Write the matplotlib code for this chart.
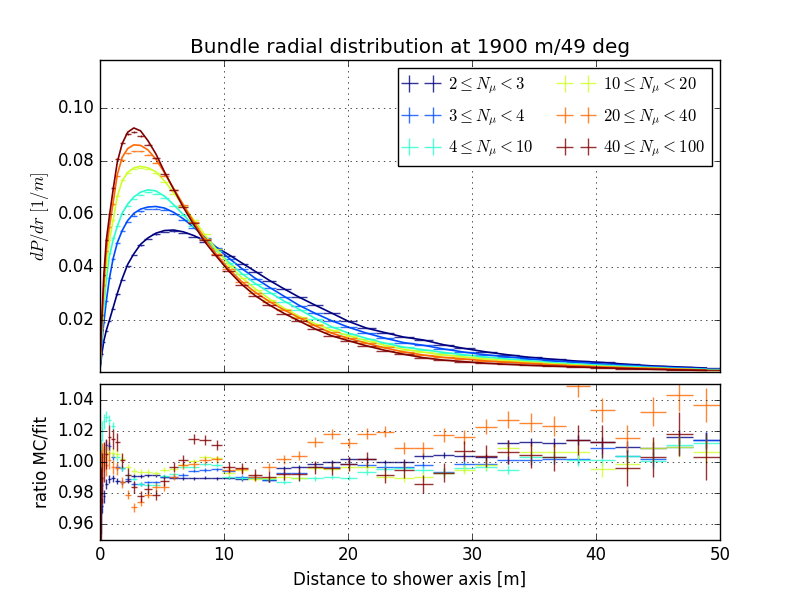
import numpy as np
import matplotlib
matplotlib.use('Agg')
import matplotlib.pyplot as plt
from matplotlib.ticker import FormatStrFormatter

plt.style.use('classic')

# bin edges in r [m] (equal steps in sqrt(r))
edges = [0.0, 0.0247, 0.0988, 0.222, 0.395, 0.617, 0.889, 1.210, 1.580, 2.000,
         2.469, 2.988, 3.556, 4.173, 4.840, 5.556, 6.321, 7.136, 8.000, 8.914,
         9.877, 10.889, 11.951, 13.062, 14.222, 15.432, 16.691, 18.000, 19.358, 20.765,
         22.222, 23.728, 25.284, 26.889, 28.543, 30.247, 32.000, 33.802, 35.654, 37.556,
         39.506, 41.506, 43.556, 45.654, 47.802, 50.0]

labels = [r'$2 \leq N_\mu < 3$', r'$3 \leq N_\mu < 4$', r'$4 \leq N_\mu < 10$',
          r'$10 \leq N_\mu < 20$', r'$20 \leq N_\mu < 40$', r'$40 \leq N_\mu < 100$']

# fitted dP/dr at bin centres
fit_2_3 = [0.0020, 0.0040, 0.0075, 0.0120, 0.0160, 0.0198, 0.0245, 0.0300, 0.0356, 0.0410,
           0.0450, 0.0486, 0.0510, 0.0528, 0.0538, 0.0540, 0.0533, 0.0519, 0.0499, 0.0474,
           0.0447, 0.0416, 0.0384, 0.0350, 0.0318, 0.0286, 0.0256, 0.0226, 0.0194, 0.0169,
           0.0152, 0.0135, 0.0124, 0.0106, 0.0092, 0.0079, 0.0068, 0.0058, 0.0051, 0.0044,
           0.0039, 0.0032, 0.0026, 0.0022, 0.0018]
fit_3_4 = [0.0025, 0.0055, 0.0120, 0.0190, 0.0270, 0.0355, 0.0430, 0.0492, 0.0538, 0.0576,
           0.0603, 0.0619, 0.0627, 0.0629, 0.0623, 0.0607, 0.0582, 0.0550, 0.0513, 0.0474,
           0.0434, 0.0395, 0.0358, 0.0324, 0.0290, 0.0255, 0.0225, 0.0197, 0.0172, 0.0150,
           0.0131, 0.0114, 0.0104, 0.0090, 0.0078, 0.0068, 0.0060, 0.0052, 0.0045, 0.0039,
           0.0033, 0.0028, 0.0023, 0.0019, 0.0015]
fit_4_10 = [0.0030, 0.0070, 0.0150, 0.0250, 0.0350, 0.0440, 0.0500, 0.0554, 0.0604, 0.0638,
            0.0665, 0.0683, 0.0692, 0.0688, 0.0668, 0.0636, 0.0598, 0.0555, 0.0508, 0.0463,
            0.0418, 0.0376, 0.0338, 0.0305, 0.0272, 0.0240, 0.0206, 0.0174, 0.0150, 0.0130,
            0.0112, 0.0097, 0.0087, 0.0077, 0.0068, 0.0059, 0.0052, 0.0045, 0.0038, 0.0033,
            0.0028, 0.0024, 0.0020, 0.0016, 0.0013]
fit_10_20 = [0.0035, 0.0080, 0.0170, 0.0290, 0.0400, 0.0500, 0.0575, 0.0667, 0.0726, 0.0758,
             0.0775, 0.0781, 0.0775, 0.0760, 0.0726, 0.0681, 0.0631, 0.0578, 0.0522, 0.0466,
             0.0408, 0.0360, 0.0318, 0.0280, 0.0245, 0.0214, 0.0186, 0.0161, 0.0140, 0.0121,
             0.0104, 0.0089, 0.0078, 0.0068, 0.0060, 0.0052, 0.0046, 0.0040, 0.0034, 0.0029,
             0.0024, 0.0020, 0.0017, 0.0014, 0.0011]
fit_20_40 = [0.0040, 0.0090, 0.0200, 0.0330, 0.0460, 0.0550, 0.0640, 0.0749, 0.0815, 0.0848,
             0.0862, 0.0860, 0.0843, 0.0808, 0.0757, 0.0697, 0.0635, 0.0570, 0.0507, 0.0448,
             0.0393, 0.0345, 0.0305, 0.0270, 0.0238, 0.0208, 0.0178, 0.0150, 0.0130, 0.0112,
             0.0094, 0.0079, 0.0067, 0.0058, 0.0052, 0.0045, 0.0040, 0.0035, 0.0030, 0.0026,
             0.0022, 0.0019, 0.0016, 0.0013, 0.0010]
fit_40_100 = [0.0050, 0.0110, 0.0220, 0.0370, 0.0500, 0.0590, 0.0690, 0.0797, 0.0867, 0.0910,
              0.0926, 0.0915, 0.0878, 0.0828, 0.0760, 0.0694, 0.0625, 0.0560, 0.0495, 0.0440,
              0.0385, 0.0335, 0.0292, 0.0257, 0.0225, 0.0196, 0.0166, 0.0140, 0.0121, 0.0102,
              0.0085, 0.0070, 0.0057, 0.0048, 0.0042, 0.0036, 0.0032, 0.0028, 0.0025, 0.0022,
              0.0019, 0.0016, 0.0013, 0.0011, 0.0009]

# ratio MC / fit
ratio_2_3 = [0.952, 0.962, 0.972, 0.978, 0.986, 0.989, 0.9895, 0.988, 0.987, 0.988,
             0.991, 0.991, 0.9915, 0.9915, 0.9905, 0.990, 0.9895, 0.9895, 0.990, 0.9895,
             0.990, 0.989, 0.990, 0.9884, 0.996, 0.9966, 0.999, 1.000, 1.002, 1.002,
             1.000, 1.000, 1.004, 1.0045, 1.004, 1.003, 1.012, 1.013, 1.0124, 1.014,
             1.013, 1.0098, 1.0088, 1.016, 1.014]
ratio_3_4 = [0.965, 0.975, 0.985, 1.005, 1.011, 1.010, 1.0035, 0.9966, 0.996, 0.989,
             0.986, 0.986, 0.987, 0.987, 0.9906, 0.9906, 0.9917, 0.9944, 0.995, 0.9953,
             0.994, 0.9906, 0.9906, 0.9884, 0.993, 0.9927, 0.997, 0.9966, 0.999, 0.998,
             0.9966, 0.9966, 0.998, 0.9938, 0.999, 0.999, 1.001, 1.001, 1.0017, 1.0017,
             1.0088, 1.0039, 1.0017, 1.0098, 1.014]
ratio_4_10 = [0.998, 1.005, 1.020, 1.026, 1.029, 1.027, 1.023, 1.003, 0.996, 0.9915,
              0.989, 0.986, 0.9855, 0.9855, 0.991, 0.992, 0.9966, 0.997, 0.9987, 0.998,
              0.9906, 0.990, 0.9895, 0.989, 0.9874, 0.9895, 0.9895, 0.9906, 0.990, 0.9938,
              0.9953, 0.996, 0.995, 0.993, 0.996, 0.997, 0.995, 1.0034, 1.003, 1.0013,
              1.0013, 1.004, 1.0006, 1.011, 1.012]
ratio_10_20 = [0.985, 0.995, 1.000, 1.004, 1.006, 1.006, 1.006, 1.005, 1.002, 0.997,
               0.9944, 0.9938, 0.9938, 0.993, 0.995, 0.9955, 0.998, 1.0006, 1.003, 1.0024,
               0.9927, 0.995, 0.989, 0.9895, 0.9906, 0.990, 0.996, 0.9953, 0.9966, 0.997,
               0.9906, 0.9895, 0.9906, 0.993, 0.995, 0.998, 1.0088, 1.0066, 1.0066, 1.0066,
               0.9953, 0.999, 1.0088, 1.0098, 1.0066]
ratio_20_40 = [0.975, 0.990, 1.000, 1.003, 0.998, 1.001, 0.997, 0.996, 0.987, 0.979,
               0.971, 0.9745, 0.979, 0.984, 0.984, 0.9906, 0.998, 0.9985, 1.001, 1.0017,
               0.995, 0.9953, 0.9906, 0.997, 1.0017, 1.0039, 1.0128, 1.018, 1.012, 1.018,
               1.0195, 1.0088, 1.0088, 1.0173, 1.016, 1.0227, 1.027, 1.0253, 1.0231, 1.0484,
               1.0334, 1.0152, 1.0323, 1.043, 1.0366]
ratio_40_100 = [0.962, 0.972, 0.990, 1.000, 1.005, 1.016, 1.015, 1.013, 1.001, 0.9917,
                0.984, 0.978, 0.9825, 0.979, 0.988, 0.9966, 1.001, 1.015, 1.014, 1.011,
                0.9966, 0.996, 0.9917, 0.9906, 0.992, 0.992, 0.9966, 0.996, 0.999, 1.0017,
                0.9917, 0.995, 0.986, 0.993, 1.007, 1.004, 1.0066, 1.0045, 1.003, 1.014,
                1.013, 0.996, 1.0034, 1.018, 1.0034]

# statistical error on the ratio
err_2_3 = [0.012, 0.008, 0.005, 0.004, 0.003, 0.0025, 0.002, 0.0018, 0.0015, 0.0013,
           0.0012, 0.0011, 0.001, 0.001, 0.001, 0.001, 0.001, 0.001, 0.001, 0.001,
           0.001, 0.001, 0.0011, 0.0011, 0.0012, 0.0012, 0.0013, 0.0013, 0.0014, 0.0015,
           0.0016, 0.0017, 0.0018, 0.0019, 0.002, 0.0022, 0.0024, 0.0026, 0.0028, 0.003,
           0.0033, 0.0036, 0.004, 0.0045, 0.005]
err_3_4 = [0.013, 0.009, 0.006, 0.0045, 0.0033, 0.0028, 0.0022, 0.002, 0.0017, 0.0014,
           0.0013, 0.0012, 0.0011, 0.0011, 0.0011, 0.0011, 0.0011, 0.0011, 0.0011, 0.0011,
           0.0011, 0.0012, 0.0012, 0.0013, 0.0013, 0.0014, 0.0014, 0.0015, 0.0016, 0.0017,
           0.0018, 0.0019, 0.002, 0.0021, 0.0022, 0.0024, 0.0026, 0.0029, 0.0031, 0.0033,
           0.0036, 0.004, 0.0044, 0.005, 0.0055]
err_4_10 = [0.014, 0.01, 0.0065, 0.005, 0.0036, 0.003, 0.0024, 0.0022, 0.0018, 0.0016,
            0.0014, 0.0013, 0.0012, 0.0012, 0.0012, 0.0012, 0.0012, 0.0012, 0.0012, 0.0012,
            0.0012, 0.0013, 0.0013, 0.0014, 0.0014, 0.0015, 0.0016, 0.0017, 0.0018, 0.0019,
            0.002, 0.0021, 0.0022, 0.0023, 0.0024, 0.0026, 0.0029, 0.0031, 0.0034, 0.0036,
            0.004, 0.0043, 0.0048, 0.0054, 0.006]
err_10_20 = [0.018, 0.012, 0.0075, 0.006, 0.0045, 0.0038, 0.003, 0.0027, 0.0023, 0.002,
             0.0018, 0.0017, 0.0015, 0.0015, 0.0015, 0.0015, 0.0015, 0.0015, 0.0015, 0.0015,
             0.0015, 0.0016, 0.0017, 0.0017, 0.0018, 0.0018, 0.002, 0.002, 0.0021, 0.0023,
             0.0024, 0.0026, 0.0027, 0.0029, 0.003, 0.0033, 0.0036, 0.0039, 0.0042, 0.0045,
             0.005, 0.0054, 0.006, 0.0068, 0.0075]
err_20_40 = [0.025, 0.018, 0.012, 0.009, 0.007, 0.0058, 0.0046, 0.0041, 0.0035, 0.003,
             0.0028, 0.0025, 0.0023, 0.0023, 0.0023, 0.0023, 0.0023, 0.0023, 0.0023, 0.0023,
             0.0023, 0.0024, 0.0025, 0.0026, 0.0028, 0.0029, 0.003, 0.0031, 0.0032, 0.0035,
             0.0037, 0.0039, 0.0041, 0.0044, 0.0046, 0.005, 0.0055, 0.006, 0.0064, 0.0069,
             0.0076, 0.0083, 0.0092, 0.01, 0.011]
err_40_100 = [0.035, 0.025, 0.016, 0.013, 0.0096, 0.008, 0.0064, 0.0058, 0.0048, 0.0042,
              0.0038, 0.0035, 0.0032, 0.0032, 0.0032, 0.0032, 0.0032, 0.0032, 0.0032, 0.0032,
              0.0032, 0.0034, 0.0035, 0.0036, 0.0038, 0.0039, 0.0042, 0.0043, 0.0045, 0.0048,
              0.0051, 0.0054, 0.0058, 0.0061, 0.0064, 0.007, 0.0077, 0.0083, 0.009, 0.0096,
              0.0106, 0.0115, 0.0128, 0.014, 0.015]

fits = [fit_2_3, fit_3_4, fit_4_10, fit_10_20, fit_20_40, fit_40_100]
ratios = [ratio_2_3, ratio_3_4, ratio_4_10, ratio_10_20, ratio_20_40, ratio_40_100]
errs = [err_2_3, err_3_4, err_4_10, err_10_20, err_20_40, err_40_100]

edges = np.array(edges)
r = 0.5 * (edges[1:] + edges[:-1])
dr = 0.5 * (edges[1:] - edges[:-1])
colors = plt.cm.jet(np.linspace(0, 1, len(labels)))

fig = plt.figure(figsize=(8, 6), facecolor='white')
ax1 = fig.add_axes([0.125, 0.38, 0.775, 0.52])
ax2 = fig.add_axes([0.125, 0.10, 0.775, 0.26], sharex=ax1)

handles = []
for fit, ratio, err, col, lab in zip(fits, ratios, errs, colors, labels):
    fit = np.array(fit)
    ratio = np.array(ratio)
    err = np.array(err)
    mc = fit * ratio
    h = ax1.errorbar(r, mc, xerr=dr, yerr=fit * err, fmt='none', ecolor=col,
                     capsize=0, alpha=0.8, label=lab)
    handles.append(h)
    ax1.plot(r, fit, '-', color=col, lw=1.2)
    ax2.errorbar(r, ratio, xerr=dr, yerr=err, fmt='none', ecolor=col,
                 capsize=0, alpha=0.8)

ax1.set_xlim(0, 50)
ax1.set_ylim(0.0003, 0.1183)
ax1.set_title('Bundle radial distribution at 1900 m/49 deg')
ax1.set_ylabel(r'$dP/dr\ [1/m]$')
ax1.grid(True)
plt.setp(ax1.get_xticklabels(), visible=False)
ax1.legend(handles, labels, loc='upper right', ncol=2, fontsize=12,
           labelspacing=0.65, columnspacing=1.6, handletextpad=0.6)

ax2.set_ylim(0.95, 1.05)
ax2.set_yticks([0.96, 0.98, 1.00, 1.02, 1.04])
ax2.yaxis.set_major_formatter(FormatStrFormatter('%.2f'))
ax2.set_ylabel('ratio MC/fit')
ax2.set_xlabel('Distance to shower axis [m]')
ax2.grid(True)

fig.savefig('out.png', dpi=100, facecolor='white')
